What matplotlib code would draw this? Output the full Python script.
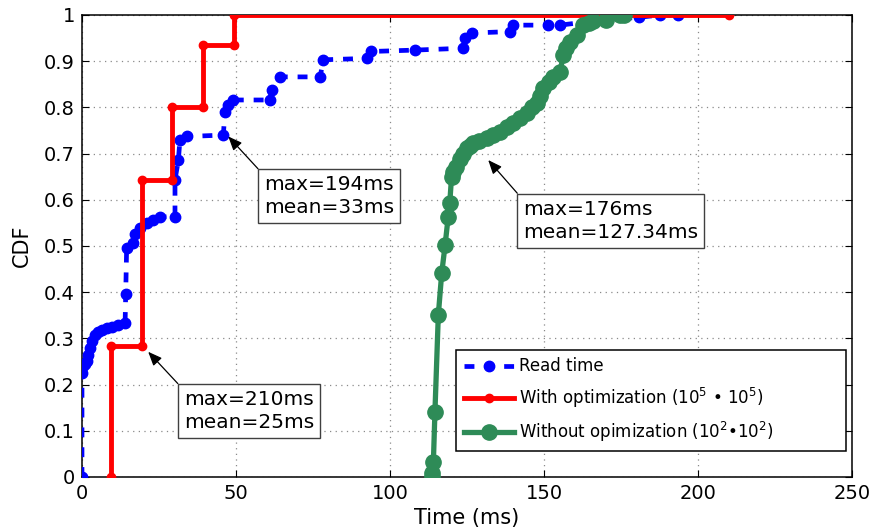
import matplotlib
matplotlib.use("Agg")
import matplotlib.pyplot as plt
from matplotlib.ticker import FuncFormatter

plt.rcParams['font.family'] = ['DejaVu Sans']
plt.rcParams['mathtext.default'] = 'regular'

# Read time CDF
read_ms = [0, 0, 0.4, 1.0, 1.5, 2.0, 2.6, 3.4, 4.2, 5.2, 6.4, 8.0, 9.6, 11.8, 14.0, 14.2,
           14.5, 16.7, 17.2, 19.0, 21.0, 23.0, 25.3, 30.2, 30.2, 31.3, 31.8, 34.0, 45.9,
           46.4, 47.5, 49.1, 61.0, 61.6, 64.3, 77.3, 78.4, 92.4, 94.0, 108.1, 123.8,
           124.4, 126.5, 139.0, 140.0, 151.3, 155.2, 170.0, 181.0, 187.7, 193.6]
read_cdf = [0, 0.225, 0.24, 0.245, 0.25, 0.265, 0.28, 0.295, 0.307, 0.313, 0.318, 0.322,
            0.325, 0.329, 0.333, 0.397, 0.495, 0.506, 0.527, 0.540, 0.549, 0.556, 0.563,
            0.563, 0.643, 0.686, 0.729, 0.737, 0.740, 0.791, 0.805, 0.816, 0.816, 0.838,
            0.866, 0.866, 0.903, 0.906, 0.921, 0.924, 0.928, 0.950, 0.961, 0.964, 0.978,
            0.978, 0.978, 0.990, 0.995, 1.0, 1.0]

# With optimization (10^5 * 10^5)
opt_ms = [9.3, 9.3, 19.4, 19.4, 29.3, 29.3, 39.2, 39.2, 49.4, 49.4, 210.0]
opt_cdf = [0, 0.283, 0.283, 0.643, 0.643, 0.801, 0.801, 0.934, 0.934, 1.0, 1.0]

# Without optimization (10^2 * 10^2)
noopt_ms = [113.5, 113.5, 114.1, 114.6, 115.7, 116.8, 117.9, 118.9, 119.4, 120.0, 120.5,
            121.5, 122.6, 123.8, 125.0, 126.0, 127.0, 129.0, 131.4, 133.5, 135.7, 137.9,
            140.0, 142.2, 144.4, 146.0, 147.6, 148.7, 149.8, 151.5, 153.0, 155.2, 156.3,
            157.3, 158.4, 160.6, 162.8, 164.5, 166.0, 170.0, 174.7, 176.0]
noopt_cdf = [0, 0.008, 0.033, 0.141, 0.351, 0.441, 0.502, 0.563, 0.592, 0.650, 0.660,
             0.672, 0.688, 0.700, 0.712, 0.717, 0.722, 0.727, 0.733, 0.740, 0.747, 0.757,
             0.766, 0.776, 0.787, 0.800, 0.809, 0.825, 0.841, 0.855, 0.866, 0.877, 0.913,
             0.928, 0.942, 0.957, 0.978, 0.982, 0.986, 0.990, 1.0, 1.0]

x_ticks = [0, 50, 100, 150, 200, 250]
y_ticks = [0, 0.1, 0.2, 0.3, 0.4, 0.5, 0.6, 0.7, 0.8, 0.9, 1.0]

labels = ["Read time",
          "With optimization ($10^5$ • $10^5$)",
          "Without opimization ($10^2$•$10^2$)"]

notes = [("max=194ms\nmean=33ms", (47.5, 0.737), (59.1, 0.653)),
         ("max=210ms\nmean=25ms", (21.5, 0.271), (33.1, 0.188)),
         ("max=176ms\nmean=127.34ms", (131.9, 0.686), (143.2, 0.600))]

fig = plt.figure(figsize=(8.73, 5.31), dpi=100)
ax = fig.add_axes([0.0939, 0.1017, 0.8820, 0.8701])

green = '#2e8b57'
ax.plot(read_ms, read_cdf, color='blue', lw=3.4, dashes=(2.1, 2.1),
        marker='o', ms=7.5, mec='blue', mfc='blue', label=labels[0], zorder=3)
ax.plot(opt_ms, opt_cdf, color='red', lw=3.5, marker='o', ms=6,
        mec='red', mfc='red', label=labels[1], zorder=4)
ax.plot(noopt_ms, noopt_cdf, color=green, lw=3.8, marker='o', ms=11,
        mec=green, mfc=green, label=labels[2], zorder=5)

ax.set_xlim(0, 250)
ax.set_ylim(0, 1)
ax.set_xticks(x_ticks)
ax.set_yticks(y_ticks)
ax.yaxis.set_major_formatter(FuncFormatter(lambda v, p: f"{v:g}"))
ax.tick_params(direction='in', length=5, width=0.8, top=True, right=True,
               labelsize=14, pad=5, colors='black')
ax.grid(True, color='#8a8a8a', linestyle=(0, (1, 3.5)), lw=0.9)
ax.set_axisbelow(True)
for s in ax.spines.values():
    s.set_linewidth(1.1)
    s.set_color('black')

ax.set_xlabel("Time (ms)", fontsize=15, labelpad=4)
ax.set_ylabel("CDF", fontsize=15, labelpad=9)

for text, tip, corner in notes:
    ax.annotate(text, xy=tip, xytext=corner, textcoords='data',
                ha='left', va='top', fontsize=14.5, linespacing=1.25, zorder=6,
                bbox=dict(boxstyle='square,pad=0.3', fc='white', ec='#404040', lw=1.0),
                arrowprops=dict(arrowstyle='-|>,head_length=0.6,head_width=0.25',
                                mutation_scale=14, color='black', lw=0.9,
                                relpos=(0, 1), shrinkA=0, shrinkB=0))

leg = ax.legend(loc='lower left', bbox_to_anchor=(0.486, 0.056, 0.506, 0.2),
                mode='expand', fontsize=12, handlelength=3.0, handletextpad=0.3,
                borderpad=0.45, labelspacing=0.6, fancybox=False, framealpha=1,
                edgecolor='black', borderaxespad=0)
leg.get_frame().set_linewidth(1.1)
leg.set_zorder(7)

fig.savefig("out.png", dpi=100)
